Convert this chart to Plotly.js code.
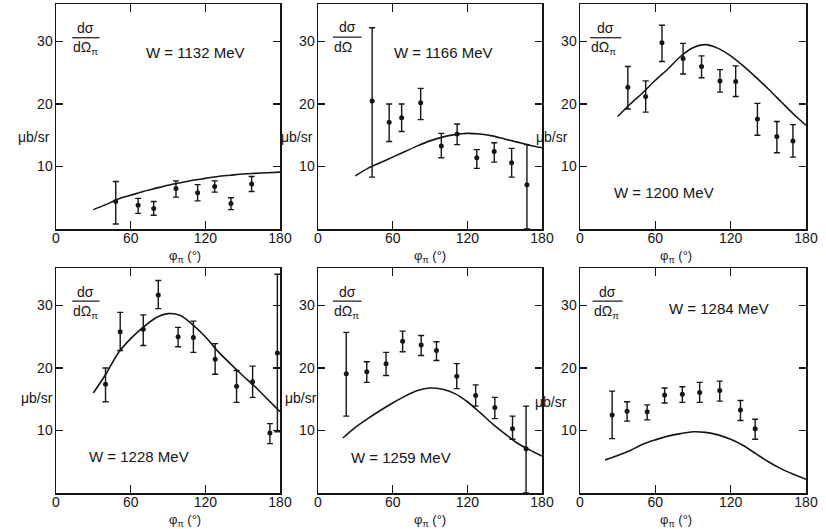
<!DOCTYPE html>
<html>
<head>
<meta charset="utf-8">
<script src="https://cdn.plot.ly/plotly-3.0.1.min.js"></script>
<style>html,body{margin:0;padding:0;background:#fff;}#chart{width:826px;height:529px;}</style>
</head>
<body>
<div id="chart"></div>
<script>
// ---- W = 1132 MeV ----
const phi1132 = [48, 66, 78.5, 96.4, 113.8, 127.5, 140.6, 157.2];
const sig1132 = [4.4, 3.8, 3.3, 6.5, 5.8, 6.8, 4.1, 7.2];
const errUp1132 = [3.2, 1.1, 1.1, 1.2, 1.3, 0.9, 0.9, 1.2];
const errDn1132 = [3.6, 1.3, 1.1, 1.4, 1.3, 0.9, 1.0, 1.2];
const thPhi1132 = [30, 40, 50, 60, 70, 80, 90, 100, 110, 120, 130, 140, 150, 160, 170, 180];
const thSig1132 = [3.1, 3.9, 4.8, 5.4, 6.0, 6.5, 7.0, 7.4, 7.8, 8.1, 8.4, 8.6, 8.8, 8.9, 9.0, 9.1];

// ---- W = 1166 MeV ----
const phi1166 = [43.5, 57.2, 67.2, 82.5, 99.1, 111.8, 127.6, 141.6, 155.6, 167.9];
const sig1166 = [20.5, 17.1, 17.8, 20.2, 13.3, 15.2, 11.4, 12.4, 10.6, 7.1];
const errUp1166 = [11.7, 2.9, 2.2, 2.3, 2.0, 1.6, 1.3, 1.4, 2.3, 6.4];
const errDn1166 = [12.2, 3.1, 2.2, 2.7, 1.9, 1.7, 1.7, 1.7, 2.3, 7.1];
const thPhi1166 = [30, 40, 50, 60, 70, 80, 90, 100, 110, 120, 130, 140, 150, 160, 170, 180];
const thSig1166 = [8.5, 9.7, 10.6, 11.5, 12.4, 13.3, 14.1, 14.7, 15.1, 15.3, 15.2, 14.9, 14.4, 13.9, 13.4, 13.0];

// ---- W = 1200 MeV ----
const phi1200 = [38.1, 52.3, 65.3, 82.1, 96.8, 111.5, 124, 141.3, 156.8, 169.6];
const sig1200 = [22.7, 21.2, 29.8, 27.3, 26.0, 23.7, 23.6, 17.6, 14.8, 14.1];
const errUp1200 = [3.3, 2.5, 2.8, 2.4, 1.7, 1.8, 2.5, 2.5, 2.4, 2.6];
const errDn1200 = [3.5, 2.5, 3.0, 2.5, 1.8, 1.8, 2.4, 2.6, 2.6, 2.6];
const thPhi1200 = [30, 40, 50, 60, 70, 80, 90, 100, 110, 120, 130, 140, 150, 160, 170, 180];
const thSig1200 = [18.0, 20.0, 21.8, 23.8, 25.6, 27.6, 29.0, 29.5, 28.9, 27.7, 26.1, 24.3, 22.4, 20.4, 18.4, 16.6];

// ---- W = 1228 MeV ----
const phi1228 = [39.8, 51.6, 70.1, 82.2, 98.1, 110.4, 127.9, 145.1, 158, 171.9, 177.9];
const sig1228 = [17.4, 25.8, 26.2, 31.7, 25.0, 24.9, 21.4, 17.1, 17.8, 9.6, 22.4];
const errUp1228 = [2.6, 3.1, 2.3, 2.3, 1.5, 2.6, 2.5, 2.5, 2.5, 1.5, 12.6];
const errDn1228 = [2.8, 3.0, 2.6, 2.2, 1.6, 2.4, 2.4, 2.6, 2.5, 1.7, 12.6];
const thPhi1228 = [30, 40, 50, 60, 70, 80, 90, 100, 110, 120, 130, 140, 150, 160, 170, 180];
const thSig1228 = [16.0, 19.0, 22.4, 24.7, 26.5, 28.0, 28.7, 28.4, 26.9, 25.0, 22.7, 20.7, 18.8, 17.0, 15.0, 13.0];

// ---- W = 1259 MeV ----
const phi1259 = [22.7, 39.2, 54.7, 68, 82.9, 95.2, 111.5, 126.7, 142.1, 156.3, 167.2];
const sig1259 = [19.1, 19.4, 20.7, 24.3, 23.7, 22.8, 18.7, 15.6, 13.7, 10.3, 7.1];
const errUp1259 = [6.6, 1.6, 1.8, 1.6, 1.5, 1.4, 2.0, 1.7, 1.6, 2.0, 6.8];
const errDn1259 = [6.8, 1.7, 1.9, 1.7, 1.7, 1.6, 2.0, 1.7, 1.8, 1.7, 7.1];
const thPhi1259 = [20, 30, 40, 50, 60, 70, 80, 90, 100, 110, 120, 130, 140, 150, 160, 170, 180];
const thSig1259 = [8.8, 10.5, 11.9, 13.2, 14.4, 15.5, 16.4, 16.8, 16.6, 15.9, 14.6, 12.9, 11.1, 9.5, 8.0, 6.9, 5.9];

// ---- W = 1284 MeV ----
const phi1284 = [25.6, 37.5, 53.5, 67.4, 81.5, 95.3, 111.3, 127.8, 139.5];
const sig1284 = [12.5, 13.1, 13.0, 15.7, 15.8, 16.1, 16.4, 13.3, 10.3];
const errUp1284 = [3.8, 1.5, 1.1, 1.1, 1.2, 1.6, 1.5, 1.5, 1.5];
const errDn1284 = [3.8, 1.6, 1.3, 1.3, 1.3, 1.6, 1.7, 1.7, 1.7];
const thPhi1284 = [20, 30, 40, 50, 60, 70, 80, 90, 100, 110, 120, 130, 140, 150, 160, 170, 180];
const thSig1284 = [5.3, 6.0, 6.8, 7.8, 8.5, 9.1, 9.5, 9.8, 9.7, 9.3, 8.6, 7.6, 6.3, 5.0, 3.9, 3.0, 2.2];

const xTickVals = [0, 60, 120, 180];
const xTickText = ['0', '60', '120', '180'];
const yTickVals = [10, 20, 30];
const yTickText = ['10', '20', '30'];

const panels = [
  {W: '1132', px: phi1132, py: sig1132, up: errUp1132, dn: errDn1132, cx: thPhi1132, cy: thSig1132},
  {W: '1166', px: phi1166, py: sig1166, up: errUp1166, dn: errDn1166, cx: thPhi1166, cy: thSig1166},
  {W: '1200', px: phi1200, py: sig1200, up: errUp1200, dn: errDn1200, cx: thPhi1200, cy: thSig1200},
  {W: '1228', px: phi1228, py: sig1228, up: errUp1228, dn: errDn1228, cx: thPhi1228, cy: thSig1228},
  {W: '1259', px: phi1259, py: sig1259, up: errUp1259, dn: errDn1259, cx: thPhi1259, cy: thSig1259},
  {W: '1284', px: phi1284, py: sig1284, up: errUp1284, dn: errDn1284, cx: thPhi1284, cy: thSig1284}
];

const INK = '#151515';
const FONT = '"Liberation Sans", Arial, sans-serif';
const W0 = 826, H0 = 529;
const colPx = [[56, 280], [318, 542], [580, 806]];
const rowPx = [[4, 229], [268, 493]];

const data = [];
const layout = {
  width: W0, height: H0,
  margin: {l: 0, r: 0, t: 0, b: 0},
  paper_bgcolor: '#fff', plot_bgcolor: '#fff',
  showlegend: false,
  font: {family: FONT, color: INK, size: 14},
  annotations: [],
  shapes: []
};

// label placements (data coordinates inside each panel / paper x)
const wLabelPos = [[112, 28.3], [101, 28.3], [67, 5.9], [67, 5.8], [66.7, 5.7], [110.6, 29.6]];
const fracBar = [[13, 35, 30.6], [12, 35, 30.7], [8, 33, 30.6], [13, 35, 30.7], [12, 35, 30.7], [10, 34, 30.7]];
const fracDen = ['dΩ<sub>π</sub>', 'dΩ', 'dΩ<sub>π</sub>', 'dΩ<sub>π</sub>', 'dΩ<sub>π</sub>', 'dΩ<sub>π</sub>'];
const mubRight = [51, 314, 569, 54, 318, 568];
const mubY = [14.7, 14.7, 14.7, 15.2, 15.2, 14.6];

panels.forEach((p, i) => {
  const r = Math.floor(i / 3), c = i % 3;
  const n = i + 1;
  const xa = 'x' + (n === 1 ? '' : n), ya = 'y' + (n === 1 ? '' : n);
  const xk = 'xaxis' + (n === 1 ? '' : n), yk = 'yaxis' + (n === 1 ? '' : n);
  const xd = [colPx[c][0] / W0, colPx[c][1] / W0];
  const yd = [1 - rowPx[r][1] / H0, 1 - rowPx[r][0] / H0];
  layout[xk] = {
    domain: xd, anchor: ya, range: [0, 180], fixedrange: true,
    tickmode: 'array', tickvals: xTickVals, ticktext: xTickText,
    ticks: 'inside', ticklen: 8, tickwidth: 1.5, tickcolor: INK,
    showline: true, linewidth: 1.5, linecolor: INK, mirror: 'ticks',
    showgrid: false, zeroline: false, ticklabelstandoff: -4,
    tickfont: {family: FONT, size: 14, color: INK}
  };
  layout[yk] = {
    domain: yd, anchor: xa, range: [0, 36], fixedrange: true,
    tickmode: 'array', tickvals: yTickVals, ticktext: yTickText,
    ticks: 'inside', ticklen: 7, tickwidth: 1.5, tickcolor: INK,
    showline: true, linewidth: 1.5, linecolor: INK, mirror: 'ticks',
    showgrid: false, zeroline: false, ticklabelstandoff: -1,
    tickfont: {family: FONT, size: 14, color: INK}
  };
  data.push({
    type: 'scatter', mode: 'lines', x: p.cx, y: p.cy, xaxis: xa, yaxis: ya,
    line: {color: INK, width: 1.6, shape: 'spline', smoothing: 0.8}, hoverinfo: 'skip'
  });
  data.push({
    type: 'scatter', mode: 'markers', x: p.px, y: p.py, xaxis: xa, yaxis: ya,
    marker: {color: INK, size: 5},
    error_y: {type: 'data', symmetric: false, array: p.up, arrayminus: p.dn, color: INK, thickness: 1.4, width: 3}
  });
  // W label
  layout.annotations.push({
    xref: xa, yref: ya, x: wLabelPos[i][0], y: wLabelPos[i][1], showarrow: false,
    text: 'W = ' + p.W + ' MeV', font: {size: 15, color: INK}
  });
  // dσ / dΩπ fraction
  const fb = fracBar[i];
  layout.shapes.push({
    type: 'line', xref: xa, yref: ya, x0: fb[0], x1: fb[1], y0: fb[2], y1: fb[2],
    line: {color: INK, width: 1.2}
  });
  layout.annotations.push({
    xref: xa, yref: ya, x: (fb[0] + fb[1]) / 2, y: fb[2] + 0.1, xanchor: 'center', yanchor: 'bottom', showarrow: false,
    text: 'dσ', font: {size: 14, color: INK}, borderpad: 0
  });
  layout.annotations.push({
    xref: xa, yref: ya, x: fb[0], y: fb[2] - 0.1, xanchor: 'left', yanchor: 'top', showarrow: false,
    text: fracDen[i], font: {size: 14, color: INK}, borderpad: 0
  });
  // μb/sr
  layout.annotations.push({
    xref: 'paper', yref: ya, x: mubRight[i] / W0, y: mubY[i], xanchor: 'right', showarrow: false,
    text: 'μb/sr', font: {size: 14, color: INK}, borderpad: 0
  });
  // x-axis title
  layout.annotations.push({
    xref: 'paper', yref: 'paper', x: (xd[0] + xd[1]) / 2, y: 1 - (r === 0 ? 247 : 511) / H0,
    yanchor: 'top', showarrow: false, text: 'φ<sub>π</sub> (°)', font: {size: 13, color: INK}, borderpad: 0
  });
});

Plotly.newPlot('chart', data, layout, {displayModeBar: false, staticPlot: true});
</script>
</body>
</html>
